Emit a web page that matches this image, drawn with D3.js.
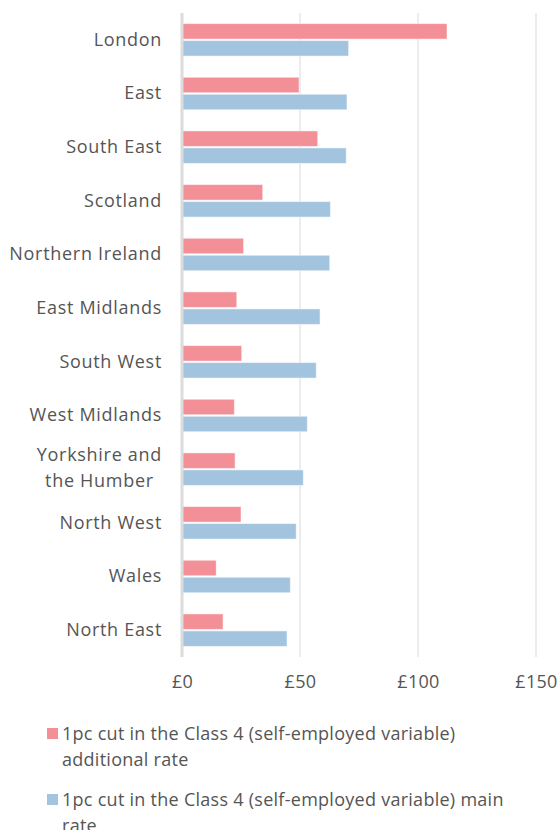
<!DOCTYPE html>
<html><head><meta charset="utf-8">
<script src="https://cdn.jsdelivr.net/npm/d3@7"></script>
<style>body{margin:0;background:#fff}svg text{font-family:"Open Sans",sans-serif;fill:#555}</style>
</head><body><svg id="c" width="560" height="830"></svg>
<script>
const regions = ["London","East","South East","Scotland","Northern Ireland","East Midlands","South West","West Midlands","Yorkshire and the Humber","North West","Wales","North East"];
const additionalRate = [112.3,49.6,57.5,34.2,26.1,23.2,25.3,22.2,22.5,25.0,14.5,17.4];
const mainRate = [70.6,69.9,69.6,62.9,62.6,58.5,56.9,53.1,51.4,48.4,45.9,44.5];
const ticks = [0,50,100,150];
const seriesNames = ["1pc cut in the Class 4 (self-employed variable) additional rate","1pc cut in the Class 4 (self-employed variable) main rate"];
const colors = ["#f38f96","#a3c4df"];

const svg = d3.select("#c");
const x = d3.scaleLinear().domain([0,150]).range([182,536]);
const y = d3.scaleBand().domain(regions).range([13,657]).paddingInner(0).paddingOuter(0);
const bw = 15.5, gap = 1.5;

svg.append("g").selectAll("line").data(ticks.slice(1)).join("line")
  .attr("x1",d=>x(d)).attr("x2",d=>x(d)).attr("y1",13).attr("y2",657)
  .attr("stroke","#ececec").attr("stroke-width",2);
const ax = svg.append("g").attr("transform","translate(0,657)")
  .call(d3.axisBottom(x).tickValues(ticks).tickSize(0).tickPadding(18).tickFormat(d=>"£"+d));
ax.select(".domain").remove();
ax.selectAll("text").attr("font-size",18).style("font-family","'Open Sans',sans-serif").style("letter-spacing","0.3px").attr("fill","#555");

const series = [additionalRate, mainRate];
series.forEach((vals,si)=>{
  svg.append("g").selectAll("rect").data(regions).join("rect")
    .attr("x",x(0)).attr("width",(d,i)=>x(vals[i])-x(0))
    .attr("y",d=>y(d)+y.bandwidth()/2 - bw - gap/2 + si*(bw+gap))
    .attr("height",bw).attr("fill",colors[si])
    .attr("stroke","#fff").attr("stroke-opacity",0.5).attr("stroke-width",1);
});
svg.append("line").attr("x1",x(0)).attr("x2",x(0)).attr("y1",13).attr("y2",657)
  .attr("stroke","#dcdcdc").attr("stroke-width",3);

const lab = svg.append("g").style("letter-spacing","0.7px");
regions.forEach(r=>{
  const cy = y(r)+y.bandwidth()/2;
  if(r==="Yorkshire and the Humber"){
    const lines=["Yorkshire and","the Humber"];
    const t = lab.append("text").attr("font-size",18).attr("text-anchor","middle");
    lines.forEach((l,k)=>t.append("tspan").attr("x",0).attr("y",cy-14+k*26).attr("dy","0.35em").text(l));
    const w = d3.max(t.selectAll("tspan").nodes(),n=>n.getComputedTextLength());
    t.selectAll("tspan").attr("x",162-w/2);
  } else {
    lab.append("text").attr("x",162).attr("y",cy).attr("dy","0.33em").attr("text-anchor","end").attr("font-size",18).text(r);
  }
});

const leg = svg.append("g").style("letter-spacing","0.27px");
const legLines = [["1pc cut in the Class 4 (self-employed variable)","additional rate"],["1pc cut in the Class 4 (self-employed variable) main","rate"]];
const legTop = [740, 806];
legLines.forEach((ls,i)=>{
  leg.append("rect").attr("x",47).attr("y",legTop[i]-12).attr("width",11).attr("height",11).attr("fill",colors[i]);
  const t = leg.append("text").attr("font-size",18);
  ls.forEach((l,k)=>t.append("tspan").attr("x",62).attr("y",legTop[i]+k*26).text(l));
});
</script></body></html>
